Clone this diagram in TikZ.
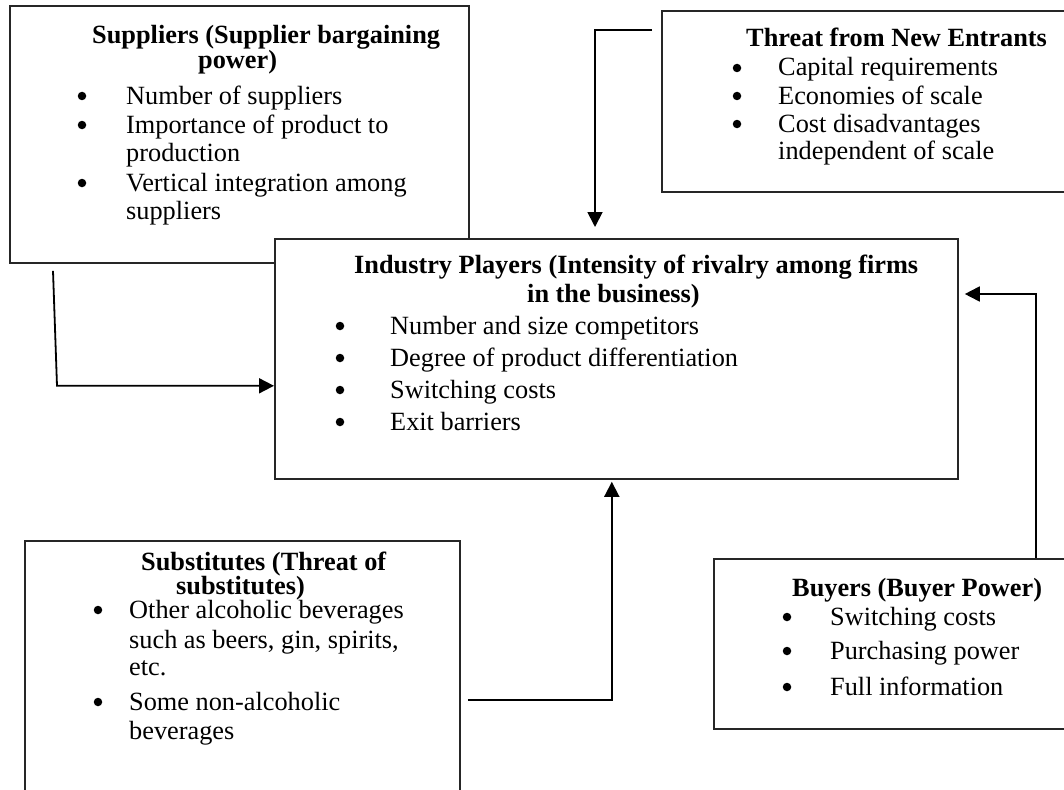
\documentclass[tikz,border=0pt]{standalone}
\usepackage{fontspec}
\setmainfont{Liberation Serif}
\usetikzlibrary{arrows.meta,calc}
\begin{document}
\begin{tikzpicture}[x=1pt,y=-1pt,
  box/.style={draw=black!85,line width=1.8pt,fill=white,anchor=north west,inner sep=0pt,rectangle},
  txt/.style={anchor=base west,inner sep=0pt,font=\fontsize{26.3}{30}\selectfont},
  ttl/.style={txt,font=\fontsize{26.3}{30}\selectfont\bfseries},
  dot/.style={circle,fill=black,draw=none,inner sep=0pt,minimum size=8.5pt},
  arr/.style={line width=1.8pt,-{Triangle[length=15pt,width=15pt]}}]
\useasboundingbox (0,0) rectangle (1064,789);

% Suppliers
\node[box,minimum width=459pt,minimum height=257pt] (sup) at (9,5) {};
\node[ttl] (sup1) at (92,44) {Suppliers (Supplier bargaining};
\node[ttl] (sup2) at (198,69) {power)};
\node[dot] (supb1) at (82,96) {};
\node[txt] (supt1) at (126,104) {Number of suppliers};
\node[dot] (supb2) at (82,125) {};
\node[txt] (supt2) at (126,133) {Importance of product to};
\node[txt] (supt3) at (126,161) {production};
\node[dot] (supb3) at (82,183) {};
\node[txt] (supt4) at (126,191) {Vertical integration among};
\node[txt] (supt5) at (126,219) {suppliers};

% Threat
\node[box,minimum width=405pt,minimum height=181pt] (thr) at (661,10) {};
\node[ttl] (thr1) at (746,47) {Threat from New Entrants};
\node[dot] (thrb1) at (737,68) {};
\node[txt] (thrt1) at (778,76) {Capital requirements};
\node[dot] (thrb2) at (737,96) {};
\node[txt] (thrt2) at (778,104) {Economies of scale};
\node[dot] (thrb3) at (737,124) {};
\node[txt] (thrt3) at (778,132) {Cost disadvantages};
\node[txt] (thrt4) at (778,159) {independent of scale};

% Industry players
\node[box,minimum width=683pt,minimum height=240pt] (ind) at (274,238) {};
\node[ttl] (ind1) at (354,273) {Industry Players (Intensity of rivalry among firms};
\node[ttl] (ind2) at (527,302) {in the business)};
\node[dot] (indb1) at (340,326) {};
\node[txt] (indt1) at (390,334) {Number and size competitors};
\node[dot] (indb2) at (340,358) {};
\node[txt] (indt2) at (390,366) {Degree of product differentiation};
\node[dot] (indb3) at (340,390) {};
\node[txt] (indt3) at (390,398) {Switching costs};
\node[dot] (indb4) at (340,422) {};
\node[txt] (indt4) at (390,430) {Exit barriers};

% Substitutes
\node[box,minimum width=435pt,minimum height=270pt] (sub) at (24,540) {};
\node[ttl] (sub1) at (141,570) {Substitutes (Threat of};
\node[ttl] (sub2) at (176,594) {substitutes)};
\node[dot] (subb1) at (98,610) {};
\node[txt] (subt1) at (129,618) {Other alcoholic beverages};
\node[txt] (subt2) at (129,648) {such as beers, gin, spirits,};
\node[txt] (subt3) at (129,675) {etc.};
\node[dot] (subb2) at (98,702) {};
\node[txt] (subt4) at (129,710) {Some non-alcoholic};
\node[txt] (subt5) at (129,739) {beverages};

% Buyers
\node[box,minimum width=353pt,minimum height=170pt] (byr) at (713,558) {};
\node[ttl] (byr1) at (792,596) {Buyers (Buyer Power)};
\node[dot] (byrb1) at (787,617) {};
\node[txt] (byrt1) at (830,625) {Switching costs};
\node[dot] (byrb2) at (787,651) {};
\node[txt] (byrt2) at (830,659) {Purchasing power};
\node[dot] (byrb3) at (787,687) {};
\node[txt] (byrt3) at (830,695) {Full information};

% Connectors
\coordinate (s1) at ($(sup.south west)+(44,7)$);
\coordinate (s2) at ($(sup.south west)+(48,122)$);
\draw[arr] (s1) -- (s2) -- (s2 -| ind.west);

\coordinate (t1) at ($(thr.north west)+(-9,20)$);
\coordinate (t2) at ($(thr.north west)+(-66,20)$);
\draw[arr,shorten >=11pt] (t1) -- (t2) -- (t2 |- ind.north);

\coordinate (u1) at ($(sub.north east)+(7,160)$);
\coordinate (u2) at ($(sub.north east)+(151,160)$);
\draw[arr,shorten >=2pt] (u1) -- (u2) -- (u2 |- ind.south);

\coordinate (b1) at ($(byr.north west)+(323,0)$);
\coordinate (b2) at ($(byr.north west)+(323,-264)$);
\draw[arr,shorten >=6pt] (b1) -- (b2) -- (b2 -| ind.east);
\end{tikzpicture}
\end{document}
